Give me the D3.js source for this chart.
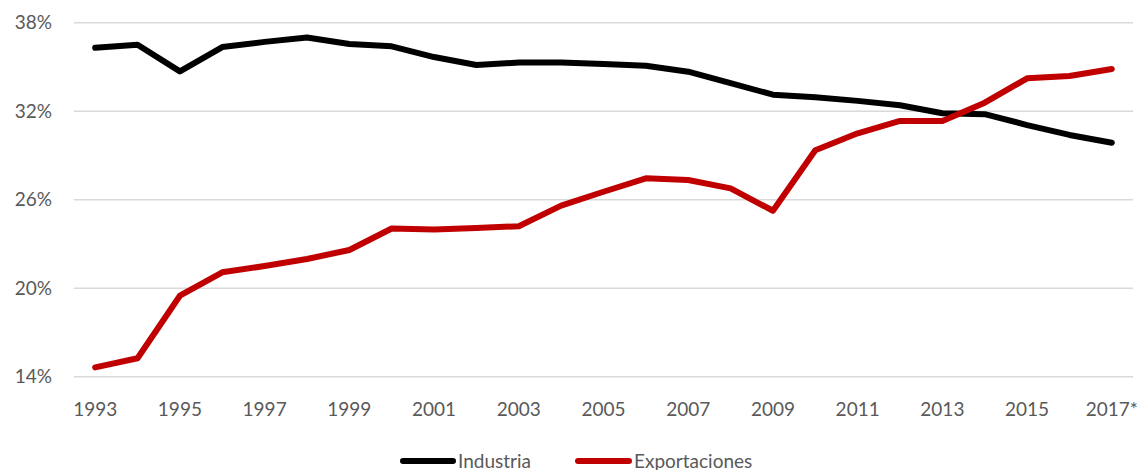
<!DOCTYPE html>
<html>
<head>
<meta charset="utf-8">
<script src="https://cdn.jsdelivr.net/npm/d3@7"></script>
<style>
  html, body { margin: 0; padding: 0; background: #fff; }
  #chart { width: 1142px; height: 470px; overflow: hidden; }
  text { font-family: Lato, "Open Sans", sans-serif; fill: #595959; }
</style>
</head>
<body>
<div id="chart"></div>
<script>
const years = ['1993','1994','1995','1996','1997','1998','1999','2000','2001','2002','2003','2004',
  '2005','2006','2007','2008','2009','2010','2011','2012','2013','2014','2015','2016','2017*'];
const industria = [36.3, 36.5, 34.7, 36.35, 36.7, 37.0, 36.55, 36.4, 35.67, 35.13, 35.3, 35.3,
  35.2, 35.08, 34.68, 33.9, 33.12, 32.94, 32.7, 32.4, 31.86, 31.8, 31.06, 30.39, 29.86];
const exportaciones = [14.63, 15.25, 19.49, 21.08, 21.5, 21.98, 22.59, 24.05, 23.98, 24.08, 24.2, 25.6,
  26.54, 27.45, 27.34, 26.77, 25.25, 29.35, 30.5, 31.34, 31.34, 32.58, 34.23, 34.39, 34.86];
const yTicks = [14, 20, 26, 32, 38];

const series = [
  {name: 'Industria', values: industria, color: '#000000'},
  {name: 'Exportaciones', values: exportaciones, color: '#C00000'}
];

const width = 1142, height = 470;
const margin = {top: 22.7, right: 9, bottom: 93.3, left: 74};

const svg = d3.select('#chart').append('svg')
  .attr('width', width)
  .attr('height', height);

const x = d3.scaleBand()
  .domain(years)
  .range([margin.left, width - margin.right]);

const y = d3.scaleLinear()
  .domain([14, 38])
  .range([height - margin.bottom, margin.top]);

// gridlines
svg.append('g')
  .selectAll('line')
  .data(yTicks)
  .join('line')
  .attr('x1', margin.left)
  .attr('x2', width - margin.right)
  .attr('y1', d => y(d))
  .attr('y2', d => y(d))
  .attr('stroke', '#d9d9d9')
  .attr('stroke-width', 1.4);

// y axis labels
const yAxis = svg.append('g')
  .attr('transform', `translate(${margin.left},0)`)
  .call(d3.axisLeft(y).tickValues(yTicks).tickFormat(d => d + '%').tickSize(0).tickPadding(22));
yAxis.select('.domain').remove();
yAxis.selectAll('text')
  .style('font-size', '19px')
  .attr('font-family', null)
  .attr('fill', '#595959');

// x axis labels
const xAxis = svg.append('g')
  .attr('transform', `translate(0,${height - margin.bottom})`)
  .call(d3.axisBottom(x).tickValues(years.filter((d, i) => i % 2 === 0)).tickSize(0).tickPadding(26));
xAxis.select('.domain').remove();
xAxis.selectAll('text')
  .style('font-size', '19px')
  .attr('fill', '#595959');

const line = d3.line()
  .x((d, i) => x(years[i]) + x.bandwidth() / 2)
  .y(d => y(d));

svg.append('g')
  .selectAll('path')
  .data(series)
  .join('path')
  .attr('d', d => line(d.values))
  .attr('fill', 'none')
  .attr('stroke', d => d.color)
  .attr('stroke-width', 6)
  .attr('stroke-linejoin', 'round')
  .attr('stroke-linecap', 'round');

// legend
const legendPos = [{x: 403, tx: 458}, {x: 578, tx: 634}];
const legend = svg.append('g')
  .selectAll('g')
  .data(series)
  .join('g');

legend.append('line')
  .attr('x1', (d, i) => legendPos[i].x)
  .attr('x2', (d, i) => legendPos[i].tx - 5)
  .attr('y1', 461)
  .attr('y2', 461)
  .attr('stroke', d => d.color)
  .attr('stroke-width', 6)
  .attr('stroke-linecap', 'round');

legend.append('text')
  .attr('x', (d, i) => legendPos[i].tx)
  .attr('y', 468)
  .style('font-size', '19px')
  .text(d => d.name);
</script>
</body>
</html>
